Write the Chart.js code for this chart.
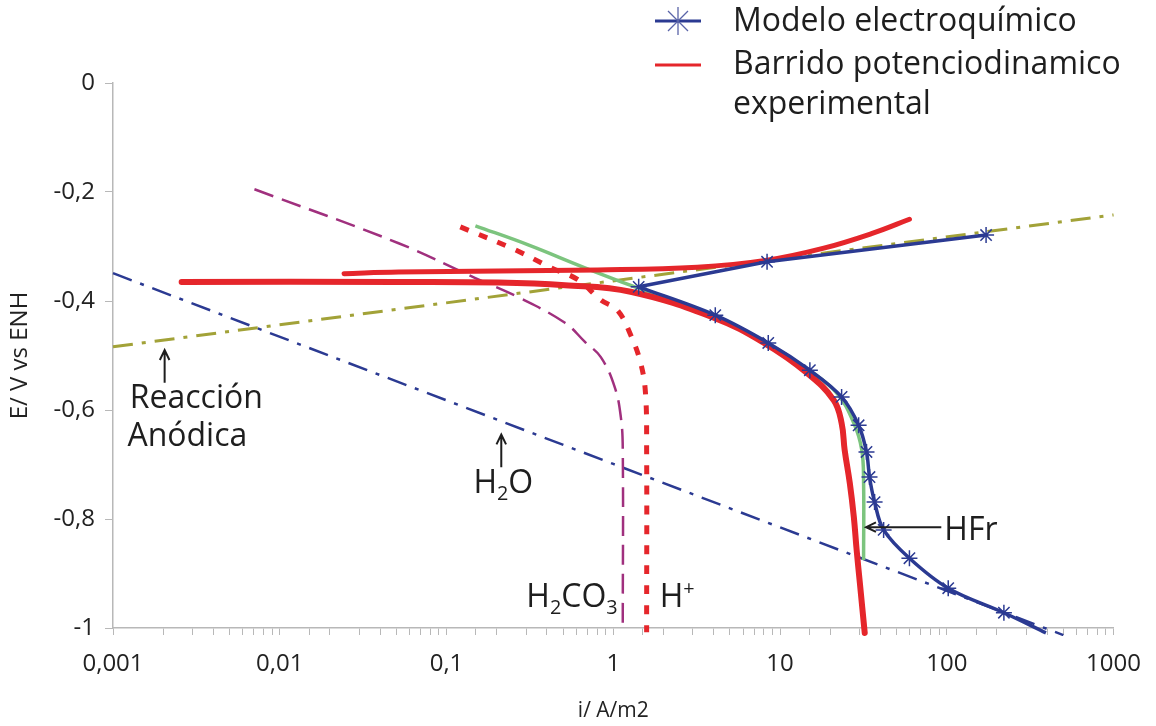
<!DOCTYPE html>
<html>
<head>
<meta charset="utf-8">
<script src="https://cdn.jsdelivr.net/npm/chart.js@4.4.1/dist/chart.umd.min.js"></script>
<style>
  html, body { margin: 0; padding: 0; background: #fff; }
  #wrap { width: 1156px; height: 726px; position: relative; }
</style>
</head>
<body>
<div id="wrap"><canvas id="polChart" width="1156" height="726"></canvas></div>
<script>
// corriente (A/m2) y potencial (V vs ENH)
var modelUpI = [172, 8.36, 1.42];
var modelUpE = [-0.279, -0.328, -0.374];
var modelLowI = [1.42, 4.09, 8.5, 15.1, 23.4, 29.6, 33.0, 34.4, 36.9, 41.8, 59.7, 102, 220, 393];
var modelLowE = [-0.374, -0.426, -0.477, -0.527, -0.576, -0.628, -0.677, -0.723, -0.769, -0.820, -0.872, -0.927, -0.972, -1.009];

var expUpI = [0.0243, 0.0516, 0.807, 3.19, 8.36, 18.3, 36.4, 59.7];
var expUpE = [-0.350, -0.347, -0.343, -0.338, -0.325, -0.303, -0.275, -0.250];

var expLowI = [0.00258, 0.0516, 0.204, 0.513, 1.27, 4.04, 8.02, 14.5, 21.0, 23.4, 24.4, 26.2, 27.7, 28.8, 30.1, 32.2];
var expLowE = [-0.365, -0.365, -0.366, -0.371, -0.383, -0.431, -0.477, -0.532, -0.582, -0.624, -0.673, -0.734, -0.796, -0.857, -0.917, -1.009];

var hfrI = [0.149, 0.309, 0.676, 1.40, 4.04, 8.36, 14.9, 21.9, 27.7, 30.9, 31.7, 31.7];
var hfrE = [-0.262, -0.297, -0.339, -0.376, -0.428, -0.477, -0.527, -0.569, -0.624, -0.673, -0.734, -0.875];

var h2co3I = [0.00705, 0.0516, 0.149, 0.269, 0.513, 0.676, 0.842, 1.02, 1.11, 1.14, 1.14];
var h2co3E = [-0.195, -0.294, -0.358, -0.393, -0.440, -0.475, -0.503, -0.558, -0.613, -0.673, -1.0];

var hplusI = [0.121, 0.258, 0.424, 0.614, 0.842, 1.06, 1.27, 1.46, 1.56, 1.585, 1.585];
var hplusE = [-0.264, -0.306, -0.339, -0.361, -0.398, -0.417, -0.462, -0.514, -0.569, -0.673, -1.008];

var h2oI = [0.001, 1, 500];
var h2oE = [-0.349, -0.699, -1.013];

var anodI = [0.001, 1000];
var anodE = [-0.484, -0.242];

var xTicks = [0.001, 0.01, 0.1, 1, 10, 100, 1000];
var yTicks = [0, -0.2, -0.4, -0.6, -0.8, -1];

var legendLabels = ['Modelo electroquímico', 'Barrido potenciodinamico', 'experimental'];

// anotaciones en coordenadas de datos
var notes = [
    {x: 0.00126, y: -0.596, parts: [{t: 'Reacción'}]},
    {x: 0.00122, y: -0.666, parts: [{t: 'Anódica'}]},
    {x: 0.145, y: -0.752, parts: [{t: 'H'}, {t: '2', s: 'sub'}, {t: 'O'}]},
    {x: 0.301, y: -0.961, parts: [{t: 'H'}, {t: '2', s: 'sub'}, {t: 'CO'}, {t: '3', s: 'sub'}]},
    {x: 1.90, y: -0.961, parts: [{t: 'H'}, {t: '+', s: 'sup'}]},
    {x: 96.6, y: -0.839, parts: [{t: 'HFr'}]}
];
var arrows = [
    {x1: 0.00204, y1: -0.550, x2: 0.00204, y2: -0.490},
    {x1: 0.213, y1: -0.705, x2: 0.213, y2: -0.645},
    {x1: 92.7, y1: -0.815, x2: 32.8, y2: -0.815}
];

function pts(xs, ys) {
    var out = [];
    for (var i = 0; i < xs.length; i++) out.push({x: xs[i], y: ys[i]});
    return out;
}

var BLUE = '#2b3a92';
var RED = '#e5262b';
var FONT = '"Open Sans", "DejaVu Sans", sans-serif';

function drawRich(ctx, x, y, parts, size) {
    var cx = x;
    parts.forEach(function (p) {
        var s = p.s ? size * 0.62 : size;
        ctx.font = s + 'px ' + FONT;
        var dy = p.s === 'sub' ? size * 0.22 : (p.s === 'sup' ? -size * 0.38 : 0);
        ctx.fillText(p.t, cx, y + dy);
        cx += ctx.measureText(p.t).width;
    });
}

function drawArrow(ctx, x1, y1, x2, y2) {
    var a = Math.atan2(y2 - y1, x2 - x1), h = 11;
    ctx.beginPath();
    ctx.moveTo(x1, y1);
    ctx.lineTo(x2, y2);
    ctx.moveTo(x2 - h * Math.cos(a - 0.45), y2 - h * Math.sin(a - 0.45));
    ctx.lineTo(x2, y2);
    ctx.lineTo(x2 - h * Math.cos(a + 0.45), y2 - h * Math.sin(a + 0.45));
    ctx.stroke();
}

var notesPlugin = {
    id: 'notes',
    afterDatasetsDraw: function (chart) {
        var ctx = chart.ctx, xs = chart.scales.x, ys = chart.scales.y;
        ctx.save();
        ctx.fillStyle = '#1e1e1e';
        ctx.strokeStyle = '#1e1e1e';
        ctx.lineWidth = 2;
        ctx.textBaseline = 'alphabetic';
        ctx.textAlign = 'left';
        notes.forEach(function (n) {
            drawRich(ctx, xs.getPixelForValue(n.x), ys.getPixelForValue(n.y), n.parts, 32);
        });
        arrows.forEach(function (a) {
            drawArrow(ctx, xs.getPixelForValue(a.x1), ys.getPixelForValue(a.y1),
                xs.getPixelForValue(a.x2), ys.getPixelForValue(a.y2));
        });

        // leyenda
        ctx.lineWidth = 3;
        ctx.strokeStyle = BLUE;
        ctx.beginPath(); ctx.moveTo(655, 21); ctx.lineTo(701, 21); ctx.stroke();
        ctx.lineWidth = 1.3;
        ctx.strokeStyle = '#5a64a8';
        ctx.beginPath();
        ctx.moveTo(678, 7); ctx.lineTo(678, 35);
        ctx.moveTo(668, 11); ctx.lineTo(688, 31);
        ctx.moveTo(688, 11); ctx.lineTo(668, 31);
        ctx.stroke();
        ctx.lineWidth = 3;
        ctx.strokeStyle = RED;
        ctx.beginPath(); ctx.moveTo(655, 65); ctx.lineTo(701, 65); ctx.stroke();
        ctx.textBaseline = 'middle';
        ctx.font = '32px ' + FONT;
        ctx.fillText(legendLabels[0], 733, 22);
        ctx.fillText(legendLabels[1], 733, 65);
        ctx.fillText(legendLabels[2], 733, 105);
        ctx.restore();
    }
};

var clipBox = {left: 4, top: 4, right: 4, bottom: 8};

var chart = new Chart(document.getElementById('polChart'), {
    type: 'scatter',
    data: {
        datasets: [
            {
                label: 'Modelo electroquímico',
                data: pts(modelUpI, modelUpE),
                showLine: true, borderColor: BLUE, borderWidth: 3.5,
                pointStyle: 'star', pointRadius: 8,
                pointBorderColor: BLUE, pointBorderWidth: 1.5, pointBackgroundColor: BLUE,
                clip: clipBox
            },
            {
                label: 'Modelo electroquímico (catódico)',
                data: pts(modelLowI, modelLowE),
                showLine: true, borderColor: BLUE, borderWidth: 3.5, tension: 0.35,
                pointStyle: 'star', pointRadius: modelLowI.map(function (v, i) { return (i === 0 || i === modelLowI.length - 1) ? 0 : 8; }),
                pointBorderColor: BLUE, pointBorderWidth: 1.5, pointBackgroundColor: BLUE,
                clip: clipBox
            },
            {
                label: 'Barrido potenciodinamico experimental',
                data: pts(expUpI, expUpE),
                showLine: true, borderColor: RED, borderWidth: 5, pointRadius: 0,
                borderCapStyle: 'round', tension: 0.4, clip: clipBox
            },
            {
                label: 'Barrido potenciodinamico experimental (catódico)',
                data: pts(expLowI, expLowE),
                showLine: true, borderColor: RED, borderWidth: 6, pointRadius: 0,
                borderCapStyle: 'round', tension: 0.4, clip: clipBox
            },
            {
                label: 'HFr',
                data: pts(hfrI, hfrE),
                showLine: true, borderColor: '#7cc47e', borderWidth: 3.5, pointRadius: 0, tension: 0.4, clip: clipBox
            },
            {
                label: 'H+',
                data: pts(hplusI, hplusE),
                showLine: true, borderColor: RED, borderWidth: 5, borderDash: [9, 11], pointRadius: 0, tension: 0.4, clip: clipBox
            },
            {
                label: 'H2CO3',
                data: pts(h2co3I, h2co3E),
                showLine: true, borderColor: '#a0307e', borderWidth: 2.5, borderDash: [20, 9], pointRadius: 0, tension: 0.4, clip: clipBox
            },
            {
                label: 'H2O',
                data: pts(h2oI, h2oE),
                showLine: true, borderColor: BLUE, borderWidth: 2.5, borderDash: [20, 9, 4, 9], pointRadius: 0, clip: clipBox
            },
            {
                label: 'Reacción anódica',
                data: pts(anodI, anodE),
                showLine: true, borderColor: '#a2a238', borderWidth: 3, borderDash: [20, 9, 4, 9], pointRadius: 0, clip: clipBox
            }
        ]
    },
    options: {
        responsive: false,
        animation: false,
        layout: {padding: {top: 83, right: 38, left: 0, bottom: 0}},
        plugins: {legend: {display: false}, tooltip: {enabled: false}},
        scales: {
            x: {
                type: 'logarithmic',
                min: xTicks[0], max: xTicks[xTicks.length - 1],
                afterFit: function (s) { s.height = 98; },
                border: {color: '#b8b8b8', width: 1.5},
                grid: {drawOnChartArea: false, drawTicks: true, tickLength: 7, color: '#b8b8b8'},
                ticks: {
                    autoSkip: false, maxRotation: 0, padding: 15, color: '#222',
                    font: {family: FONT, size: 24},
                    callback: function (v) {
                        return xTicks.some(function (t) { return Math.abs(t - v) / t < 1e-9; })
                            ? String(v).replace('.', ',') : '';
                    }
                },
                title: {display: true, text: 'i/ A/m2', color: '#222', font: {family: FONT, size: 21}, padding: {top: 0, bottom: 2}}
            },
            y: {
                min: yTicks[yTicks.length - 1], max: yTicks[0],
                afterFit: function (s) { s.width = 113; },
                border: {color: '#b8b8b8', width: 1.5},
                grid: {drawOnChartArea: false, drawTicks: true, tickLength: 8, color: '#b8b8b8'},
                ticks: {
                    stepSize: 0.2, padding: 10, color: '#222',
                    font: {family: FONT, size: 24},
                    callback: function (v) { return String(Number(v.toFixed(1))).replace('.', ','); }
                },
                title: {display: true, text: 'E/ V vs ENH', color: '#222', font: {family: FONT, size: 24}, padding: {top: 6, bottom: 0}}
            }
        }
    },
    plugins: [notesPlugin]
});
</script>
</body>
</html>
